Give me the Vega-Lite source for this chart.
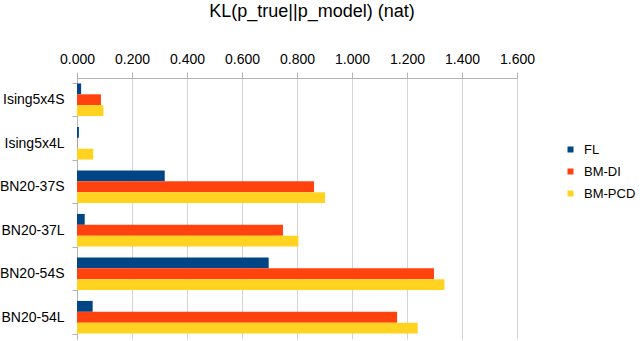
{
  "$schema": "https://vega.github.io/schema/vega-lite/v6.json",
  "width": 440,
  "height": 261,
  "autosize": {"type": "none"},
  "padding": {"left": 77, "top": 78, "right": 123, "bottom": 2},
  "background": "white",
  "config": {"view": {"stroke": null}, "font": "Liberation Sans"},
  "title": {"text": "KL(p_true||p_model) (nat)", "font": "Liberation Sans", "fontSize": 18, "fontWeight": "normal", "color": "#000000", "anchor": "middle", "dx": 15, "offset": 31},
  "data": {"values": [
    {"cat": "Ising5x4S", "series": "FL", "value": 0.015},
    {"cat": "Ising5x4S", "series": "BM-DI", "value": 0.087},
    {"cat": "Ising5x4S", "series": "BM-PCD", "value": 0.096},
    {"cat": "Ising5x4L", "series": "FL", "value": 0.007},
    {"cat": "Ising5x4L", "series": "BM-DI", "value": 0.001},
    {"cat": "Ising5x4L", "series": "BM-PCD", "value": 0.059},
    {"cat": "BN20-37S", "series": "FL", "value": 0.319},
    {"cat": "BN20-37S", "series": "BM-DI", "value": 0.862},
    {"cat": "BN20-37S", "series": "BM-PCD", "value": 0.902},
    {"cat": "BN20-37L", "series": "FL", "value": 0.028},
    {"cat": "BN20-37L", "series": "BM-DI", "value": 0.749},
    {"cat": "BN20-37L", "series": "BM-PCD", "value": 0.805},
    {"cat": "BN20-54S", "series": "FL", "value": 0.697},
    {"cat": "BN20-54S", "series": "BM-DI", "value": 1.298},
    {"cat": "BN20-54S", "series": "BM-PCD", "value": 1.336},
    {"cat": "BN20-54L", "series": "FL", "value": 0.057},
    {"cat": "BN20-54L", "series": "BM-DI", "value": 1.164},
    {"cat": "BN20-54L", "series": "BM-PCD", "value": 1.239}
  ]},
  "mark": {"type": "bar"},
  "encoding": {
    "y": {
      "field": "cat", "type": "nominal",
      "sort": ["Ising5x4S", "Ising5x4L", "BN20-37S", "BN20-37L", "BN20-54S", "BN20-54L"],
      "scale": {"paddingInner": 0.25, "paddingOuter": 0.125},
      "axis": {"title": null, "tickBand": "extent", "domainColor": "#b3b3b3", "tickColor": "#b3b3b3", "tickSize": 5, "labelFont": "Liberation Sans", "labelFontSize": 14, "labelColor": "#000000", "labelPadding": 8}
    },
    "yOffset": {"field": "series", "type": "nominal", "sort": ["FL", "BM-DI", "BM-PCD"]},
    "x": {
      "field": "value", "type": "quantitative",
      "scale": {"domain": [0, 1.6], "nice": false},
      "axis": {"orient": "top", "title": null, "format": ".3f", "values": [0, 0.2, 0.4, 0.6, 0.8, 1.0, 1.2, 1.4, 1.6], "labelFlush": false, "labelOverlap": false, "grid": true, "gridColor": "#d4d4d4", "domainColor": "#b3b3b3", "tickColor": "#b3b3b3", "tickSize": 6, "labelFont": "Liberation Sans", "labelFontSize": 14, "labelColor": "#000000", "labelPadding": 6}
    },
    "color": {
      "field": "series", "type": "nominal",
      "scale": {"domain": ["FL", "BM-DI", "BM-PCD"], "range": ["#004586", "#ff420e", "#ffd320"]},
      "legend": {"title": null, "orient": "none", "legendX": 487, "legendY": 65, "symbolType": "square", "symbolSize": 36, "symbolStrokeWidth": 0, "labelFont": "Liberation Sans", "labelFontSize": 13, "labelColor": "#000000", "labelOffset": 7, "labelLimit": 200, "rowPadding": 8}
    }
  }
}
